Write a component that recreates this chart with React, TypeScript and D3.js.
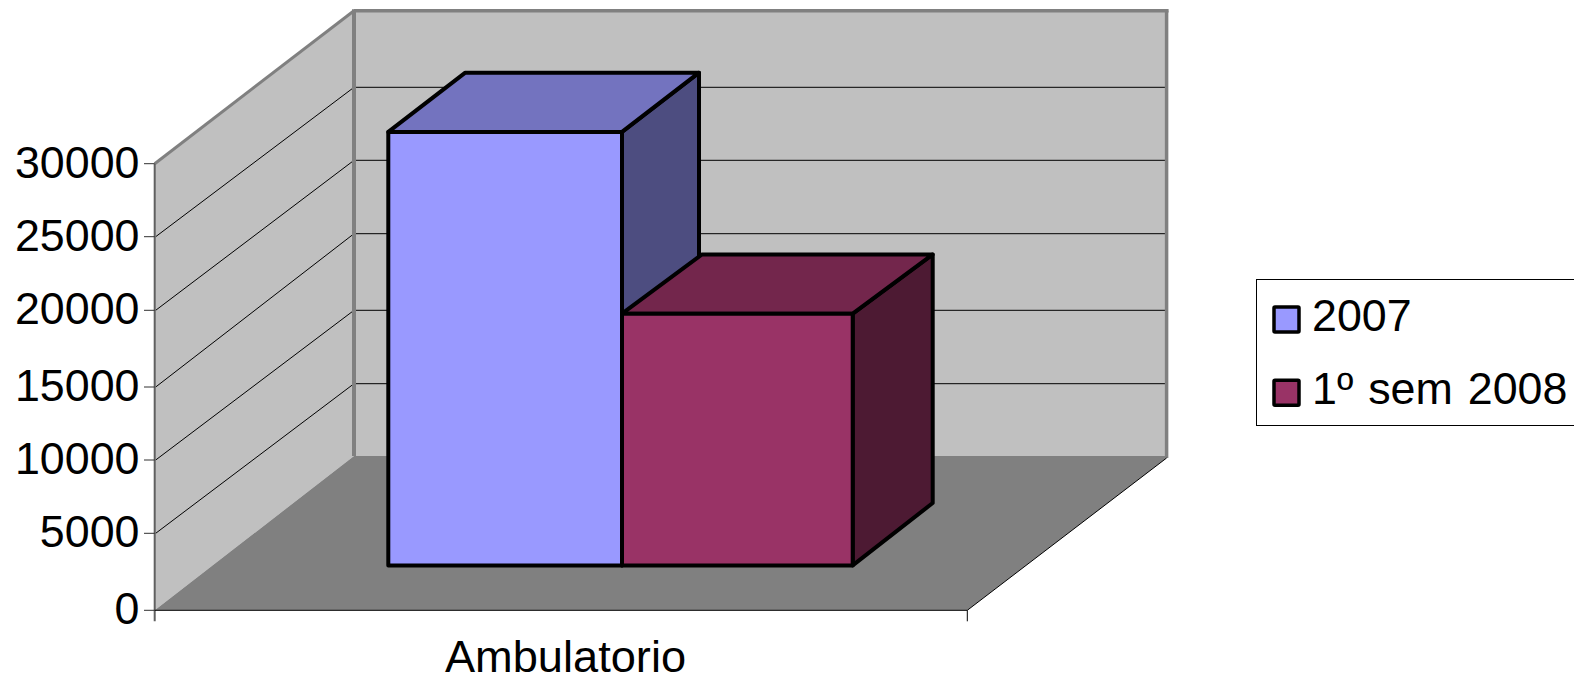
import React from "react";
import * as d3 from "d3";

const categories = ["Ambulatorio"];
const seriesNames = ["2007", "1º sem 2008"];
const seriesValues = [29100, 16850];
const seriesColors = ["#9999FF", "#993366"];
const topColors = ["#7373BF", "#73264C"];
const sideColors = ["#4D4D80", "#4D1A33"];
const tickValues = [0, 5000, 10000, 15000, 20000, 25000, 30000];

const FONT = "'Liberation Sans', Arial, sans-serif";
const FS = 44.8;

// Axis levels are pixel-snapped in the source drawing, so they are mapped tick by tick.
const yFront = d3.scaleLinear().domain(tickValues).range([610.3, 533.3, 460, 387, 310.3, 236.7, 163.7]);
const yBack = d3.scaleLinear().domain(tickValues).range([456, 383.7, 310.3, 233.7, 160.3, 87.3, 10.7]);
// Bar edges along the category axis, by series index.
const xEdge = d3.scaleLinear().domain([0, 1, 2]).range([388.3, 622, 852.7]);

const X0 = 154.7;
const X1 = 967.3;
const DX = 199.3;
const DY = 154.3;
const depthFront = 0.291;
const barDepthX = [77, 80];
const barDepthY = 59.3;
const barFootDepthY = 62.4;

const poly = (pts: [number, number][]) => pts.map((p) => p.join(",")).join(" ");

export default function App() {
  const base = yFront(0);
  const backX = X0 + DX;
  const backRight = X1 + DX;
  const top = yBack(30000);
  const floor = yBack(0);

  return (
    <svg
      width={1574}
      height={680}
      style={{ position: "fixed", left: 0, top: 0, background: "#fff" }}
      fontFamily={FONT}
    >
      {/* walls and floor */}
      <rect x={backX} y={top} width={backRight - backX} height={floor - top} fill="#C0C0C0" />
      <polygon
        points={poly([[X0, yFront(30000)], [backX, top], [backX, floor], [X0, base]])}
        fill="#C0C0C0"
      />
      <polygon
        points={poly([[X0, base], [backX, floor], [backRight, floor], [backRight, floor + 2], [X1, base]])}
        fill="#808080"
      />

      {/* gridlines */}
      {tickValues.slice(1, -1).map((t) => (
        <g key={t} stroke="#000" strokeWidth={1}>
          <line x1={X0 + 1} y1={yFront(t)} x2={backX} y2={yBack(t)} />
          <line x1={backX} y1={yBack(t)} x2={backRight} y2={yBack(t)} />
        </g>
      ))}

      {/* wall frame */}
      <g stroke="#808080" fill="none">
        <line x1={backX} y1={top - 1.5} x2={backX} y2={floor} strokeWidth={4} />
        <line x1={backX} y1={top} x2={backRight + 2} y2={top} strokeWidth={3.5} />
        <line x1={backRight} y1={top} x2={backRight} y2={floor + 2} strokeWidth={3.5} />
        <line x1={X0} y1={yFront(30000)} x2={backX} y2={top} strokeWidth={3} />
      </g>
      <line x1={X0} y1={yFront(30000)} x2={X0} y2={base + 11} stroke="#606060" strokeWidth={2} />

      {/* floor edges and ticks */}
      <g stroke="#000" strokeWidth={1}>
        <line x1={X0} y1={base} x2={X1} y2={base} />
        <line x1={X1} y1={base} x2={backRight} y2={floor + 2} />
        <line x1={X1} y1={base} x2={X1} y2={base + 11} />
      </g>
      {tickValues.map((t) => (
        <line key={t} x1={144} x2={X0} y1={yFront(t)} y2={yFront(t)} stroke="#303030" strokeWidth={1} />
      ))}

      {/* tick labels */}
      {tickValues.map((t) => (
        <text key={t} x={139.5} y={yFront(t) + 14} fontSize={FS} textAnchor="end" fill="#000">
          {t}
        </text>
      ))}

      {/* bars */}
      {seriesNames.map((name, i) => {
        const x0 = xEdge(i);
        const x1 = xEdge(i + 1);
        const dx = barDepthX[i];
        const yb = base - depthFront * DY;
        const yt = yFront(seriesValues[i]) - depthFront * DY;
        return (
          <g key={name} stroke="#000" strokeWidth={4} strokeLinejoin="round">
            <polygon
              points={poly([[x1, yb], [x1 + dx, yb - barFootDepthY], [x1 + dx, yt - barDepthY], [x1, yt]])}
              fill={sideColors[i]}
            />
            <polygon
              points={poly([[x0, yt], [x0 + dx, yt - barDepthY], [x1 + dx, yt - barDepthY], [x1, yt]])}
              fill={topColors[i]}
            />
            <rect x={x0} y={yt} width={x1 - x0} height={yb - yt} fill={seriesColors[i]} />
          </g>
        );
      })}

      {/* category label */}
      <text x={(X0 + X1) / 2 + 4.5} y={671.5} fontSize={45.2} textAnchor="middle" fill="#000">
        {categories[0]}
      </text>

      {/* legend */}
      <rect x={1256.5} y={279.5} width={340} height={146} fill="#fff" stroke="#000" strokeWidth={1} />
      {seriesNames.map((name, i) => (
        <g key={name} transform={`translate(0, ${i * 73.3})`}>
          <rect
            x={1274}
            y={307}
            width={25}
            height={25}
            rx={1}
            fill={seriesColors[i]}
            stroke="#000"
            strokeWidth={3.5}
          />
          <text x={1312} y={331} fontSize={FS} fill="#000" wordSpacing={2.5}>
            {name}
          </text>
        </g>
      ))}
    </svg>
  );
}
